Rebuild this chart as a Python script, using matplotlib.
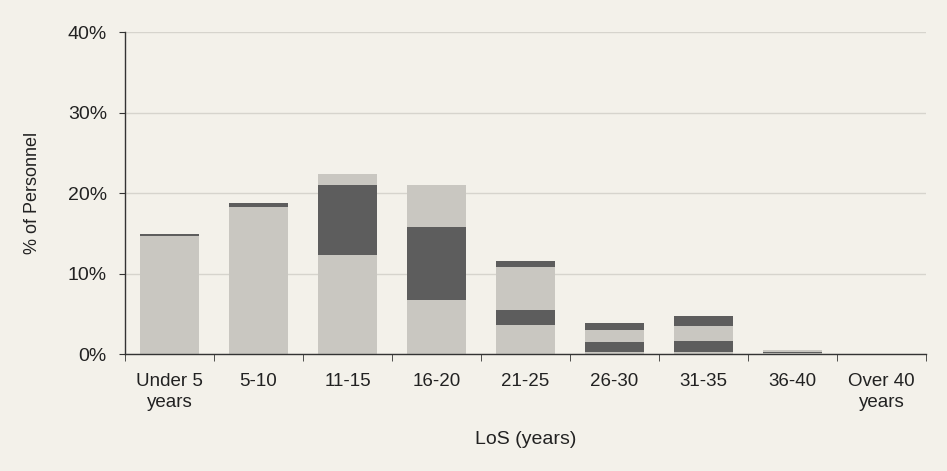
import matplotlib.pyplot as plt
import numpy as np

plt.rcParams['font.family'] = ['Liberation Sans', 'DejaVu Sans']

categories = ["Under 5\nyears", "5-10", "11-15", "16-20", "21-25",
              "26-30", "31-35", "36-40", "Over 40\nyears"]
# Stacked shares (% of personnel), bottom to top
band1 = [14.6, 18.3, 12.3, 6.7, 3.6, 0.3, 0.3, 0.1, 0.0]
band2 = [0.3, 0.5, 8.7, 9.1, 1.9, 1.2, 1.3, 0.15, 0.0]
band3 = [0.0, 0.0, 1.4, 5.2, 5.3, 1.5, 1.9, 0.25, 0.0]
band4 = [0.0, 0.0, 0.0, 0.0, 0.8, 0.9, 1.2, 0.0, 0.0]
yticks = [0, 10, 20, 30, 40]

light = "#c9c7c1"
dark = "#5d5d5d"
paper = "#f3f1ea"
ink = "#222222"

fig = plt.figure(figsize=(9.47, 4.71), dpi=100, facecolor=paper)
ax = fig.add_axes([0.132, 0.2484, 0.846, 0.6836], facecolor=paper)

x = np.arange(len(categories))
bottom = np.zeros(len(categories))
for vals, col in [(band1, light), (band2, dark), (band3, light), (band4, dark)]:
    v = np.array(vals)
    ax.bar(x, v, bottom=bottom, width=0.67, color=col, edgecolor="none", zorder=2)
    bottom += v

ax.set_xlim(-0.5, len(categories) - 0.5)
ax.set_ylim(0, 40)
ax.set_yticks(yticks)
ax.set_yticklabels([f"{t}%" for t in yticks], fontsize=14, color=ink)
ax.yaxis.grid(True, color="#d6d4cd", linewidth=1.0, zorder=0)
ax.set_axisbelow(True)

ax.set_xticks(x)
ax.set_xticklabels(categories, fontsize=13.5, linespacing=1.3, color=ink)
ax.tick_params(axis="x", length=0, pad=14)
ax.set_xticks(np.arange(-0.5, len(categories)), minor=True)
ax.tick_params(axis="x", which="minor", length=5, direction="out", color="#333333")
ax.tick_params(axis="y", length=4, direction="out", color="#333333", pad=9)

for s in ["top", "right"]:
    ax.spines[s].set_visible(False)
for s in ["left", "bottom"]:
    ax.spines[s].set_color("#333333")
    ax.spines[s].set_linewidth(1.0)

ax.set_xlabel("LoS (years)", fontsize=14, labelpad=14, color=ink)
ax.set_ylabel("% of Personnel", fontsize=13, labelpad=19, color=ink)

fig.savefig("out.png", dpi=100, facecolor=paper)
